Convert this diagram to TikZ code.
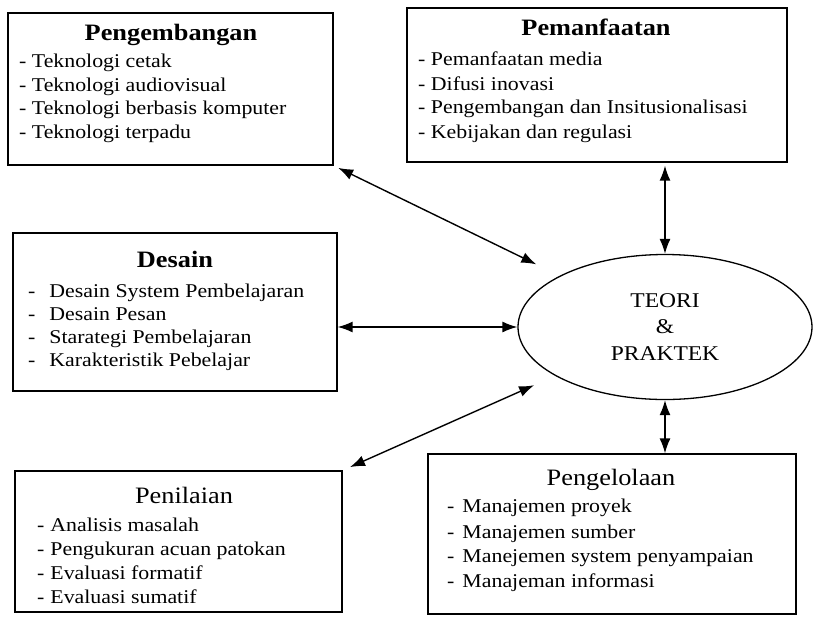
\documentclass[tikz,border=0pt]{standalone}
\usepackage{fontspec}
\setmainfont{Liberation Serif}[FakeStretch=1.12]
\usetikzlibrary{arrows.meta,shapes.geometric}

\newcommand{\itemfont}{\fontsize{19.5}{23}\selectfont}
\newcommand{\headfont}{\fontsize{23.5}{27}\selectfont}

\tikzset{
    areabox/.style={draw, rectangle, line width=1.3pt, inner sep=0pt},
    head/.style={anchor=base, inner sep=0pt, font=\headfont\bfseries},
    headplain/.style={anchor=base, inner sep=0pt, font=\headfont},
    entry/.style={anchor=base west, inner sep=0pt, font=\itemfont},
    twoway/.style={{Latex[length=15pt,width=11pt]}-{Latex[length=15pt,width=11pt]}},
}

\begin{document}
\begin{tikzpicture}[x=1pt, y=-1pt]
        \useasboundingbox (0,0) rectangle (814,622);

        \begin{scope}[every node/.style={areabox}]
            \node[minimum width=325pt, minimum height=152pt] (pengbox) at (170.5,89) {};
            \node[minimum width=380pt, minimum height=154pt] (manfbox) at (597,85) {};
            \node[minimum width=324pt, minimum height=158pt] (desbox) at (175,312) {};
            \node[minimum width=327pt, minimum height=141pt] (nilbox) at (178.5,541.5) {};
            \node[minimum width=368pt, minimum height=160pt] (kelbox) at (612,534) {};
        \end{scope}

        \node[draw, ellipse, line width=1.3pt, minimum width=294pt, minimum height=145pt,
            align=center, font=\fontsize{21}{26.5}\selectfont] (teori) at (665,327)
            {TEORI\\ \&\\ PRAKTEK};

        % Pengembangan
        \node[head] (pengtitle) at (171,40) {Pengembangan};
        \node[entry] (peng1) at (19,67.5) {- Teknologi cetak};
        \node[entry] (peng2) at (19,91.2) {- Teknologi audiovisual};
        \node[entry] (peng3) at (19,114.9) {- Teknologi berbasis komputer};
        \node[entry] (peng4) at (19,138.6) {- Teknologi terpadu};

        % Pemanfaatan
        \node[head] (manftitle) at (596,35) {Pemanfaatan};
        \node[entry] (manf1) at (418,65) {- Pemanfaatan media};
        \node[entry] (manf2) at (418,90) {- Difusi inovasi};
        \node[entry] (manf3) at (418,113.5) {- Pengembangan dan Insitusionalisasi};
        \node[entry] (manf4) at (418,138) {- Kebijakan dan regulasi};

        % Desain
        \node[head] (destitle) at (175,267) {Desain};
        \node[entry] (des1) at (28,297) {-\hspace{14pt}Desain System Pembelajaran};
        \node[entry] (des2) at (28,320) {-\hspace{14pt}Desain Pesan};
        \node[entry] (des3) at (28,343) {-\hspace{14pt}Starategi Pembelajaran};
        \node[entry] (des4) at (28,366) {-\hspace{14pt}Karakteristik Pebelajar};

        % Penilaian
        \node[headplain] (niltitle) at (184,503) {Penilaian};
        \node[entry] (nil1) at (37,531) {-\hspace{6pt}Analisis masalah};
        \node[entry] (nil2) at (37,555) {-\hspace{6pt}Pengukuran acuan patokan};
        \node[entry] (nil3) at (37,579) {-\hspace{6pt}Evaluasi formatif};
        \node[entry] (nil4) at (37,603) {-\hspace{6pt}Evaluasi sumatif};

        % Pengelolaan
        \node[headplain] (keltitle) at (611,485) {Pengelolaan};
        \node[entry] (kel1) at (447,512) {-\hspace{8pt}Manajemen proyek};
        \node[entry] (kel2) at (447,538) {-\hspace{8pt}Manajemen sumber};
        \node[entry] (kel3) at (447,562) {-\hspace{8pt}Manejemen system penyampaian};
        \node[entry] (kel4) at (447,587) {-\hspace{8pt}Manajeman informasi};

        \begin{scope}[
                every edge/.style={draw, line width=1.4pt}]
            \path [twoway] (pengbox.south east) edge [shorten <=5pt, shorten >=26pt] (teori);
            \path [twoway] (teori.north) edge [shorten >=3pt] (teori.north |- manfbox.south);
            \path [twoway] (desbox.east |- teori.west) edge (teori.west);
            \path [twoway] (nilbox.north east) edge [shorten <=8pt, shorten >=23pt] (teori);
            \path [twoway] (teori.south) edge (teori.south |- kelbox.north);
        \end{scope}
    \end{tikzpicture}
\end{document}
